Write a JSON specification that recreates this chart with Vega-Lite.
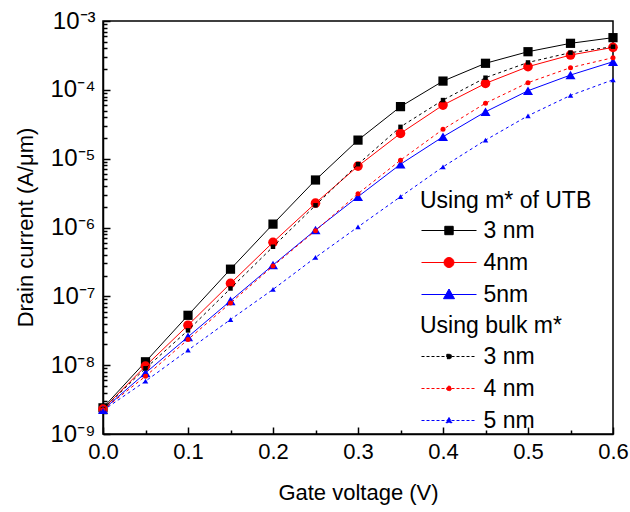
{
  "$schema": "https://vega.github.io/schema/vega-lite/v6.json",
  "autosize": {"type": "none"},
  "width": 510,
  "height": 413,
  "padding": {"left": 103, "top": 21, "right": 17, "bottom": 78},
  "config": {
    "font": "Liberation Sans",
    "view": {"stroke": "#000", "strokeWidth": 1.5},
    "axis": {"domainColor": "#000", "domainWidth": 1.5, "tickColor": "#000", "labelColor": "#000", "titleColor": "#000", "grid": false, "titleFontWeight": "normal", "labelFont": "Liberation Sans", "titleFont": "Liberation Sans"},
    "legend": {"labelFont": "Liberation Sans", "titleFont": "Liberation Sans", "labelColor": "#000", "titleColor": "#000"}
  },
  "data": {"values": [
    {"v": 0.0, "I": 2.4e-9, "m": "UTB", "t": "3 nm"},
    {"v": 0.05, "I": 1.12e-8, "m": "UTB", "t": "3 nm"},
    {"v": 0.1, "I": 5.3e-8, "m": "UTB", "t": "3 nm"},
    {"v": 0.15, "I": 2.48e-7, "m": "UTB", "t": "3 nm"},
    {"v": 0.2, "I": 1.12e-6, "m": "UTB", "t": "3 nm"},
    {"v": 0.25, "I": 4.9e-6, "m": "UTB", "t": "3 nm"},
    {"v": 0.3, "I": 1.86e-5, "m": "UTB", "t": "3 nm"},
    {"v": 0.35, "I": 5.7e-5, "m": "UTB", "t": "3 nm"},
    {"v": 0.4, "I": 1.34e-4, "m": "UTB", "t": "3 nm"},
    {"v": 0.45, "I": 2.43e-4, "m": "UTB", "t": "3 nm"},
    {"v": 0.5, "I": 3.58e-4, "m": "UTB", "t": "3 nm"},
    {"v": 0.55, "I": 4.74e-4, "m": "UTB", "t": "3 nm"},
    {"v": 0.6, "I": 5.73e-4, "m": "UTB", "t": "3 nm"},
    {"v": 0.0, "I": 2.3e-9, "m": "UTB", "t": "4nm"},
    {"v": 0.05, "I": 9.7e-9, "m": "UTB", "t": "4nm"},
    {"v": 0.1, "I": 3.8e-8, "m": "UTB", "t": "4nm"},
    {"v": 0.15, "I": 1.54e-7, "m": "UTB", "t": "4nm"},
    {"v": 0.2, "I": 6.1e-7, "m": "UTB", "t": "4nm"},
    {"v": 0.25, "I": 2.26e-6, "m": "UTB", "t": "4nm"},
    {"v": 0.3, "I": 7.8e-6, "m": "UTB", "t": "4nm"},
    {"v": 0.35, "I": 2.33e-5, "m": "UTB", "t": "4nm"},
    {"v": 0.4, "I": 6.0e-5, "m": "UTB", "t": "4nm"},
    {"v": 0.45, "I": 1.24e-4, "m": "UTB", "t": "4nm"},
    {"v": 0.5, "I": 2.17e-4, "m": "UTB", "t": "4nm"},
    {"v": 0.55, "I": 3.2e-4, "m": "UTB", "t": "4nm"},
    {"v": 0.6, "I": 4.14e-4, "m": "UTB", "t": "4nm"},
    {"v": 0.0, "I": 2.25e-9, "m": "UTB", "t": "5nm"},
    {"v": 0.05, "I": 7.7e-9, "m": "UTB", "t": "5nm"},
    {"v": 0.1, "I": 2.58e-8, "m": "UTB", "t": "5nm"},
    {"v": 0.15, "I": 8.6e-8, "m": "UTB", "t": "5nm"},
    {"v": 0.2, "I": 2.85e-7, "m": "UTB", "t": "5nm"},
    {"v": 0.25, "I": 9.2e-7, "m": "UTB", "t": "5nm"},
    {"v": 0.3, "I": 2.8e-6, "m": "UTB", "t": "5nm"},
    {"v": 0.35, "I": 8.3e-6, "m": "UTB", "t": "5nm"},
    {"v": 0.4, "I": 2.08e-5, "m": "UTB", "t": "5nm"},
    {"v": 0.45, "I": 4.8e-5, "m": "UTB", "t": "5nm"},
    {"v": 0.5, "I": 9.7e-5, "m": "UTB", "t": "5nm"},
    {"v": 0.55, "I": 1.64e-4, "m": "UTB", "t": "5nm"},
    {"v": 0.6, "I": 2.56e-4, "m": "UTB", "t": "5nm"},
    {"v": 0.0, "I": 2.3e-9, "m": "bulk", "t": "3 nm"},
    {"v": 0.05, "I": 9.0e-9, "m": "bulk", "t": "3 nm"},
    {"v": 0.1, "I": 3.2e-8, "m": "bulk", "t": "3 nm"},
    {"v": 0.15, "I": 1.3e-7, "m": "bulk", "t": "3 nm"},
    {"v": 0.2, "I": 5.25e-7, "m": "bulk", "t": "3 nm"},
    {"v": 0.25, "I": 2.1e-6, "m": "bulk", "t": "3 nm"},
    {"v": 0.3, "I": 8.3e-6, "m": "bulk", "t": "3 nm"},
    {"v": 0.35, "I": 2.9e-5, "m": "bulk", "t": "3 nm"},
    {"v": 0.4, "I": 7.1e-5, "m": "bulk", "t": "3 nm"},
    {"v": 0.45, "I": 1.5e-4, "m": "bulk", "t": "3 nm"},
    {"v": 0.5, "I": 2.5e-4, "m": "bulk", "t": "3 nm"},
    {"v": 0.55, "I": 3.47e-4, "m": "bulk", "t": "3 nm"},
    {"v": 0.6, "I": 4.23e-4, "m": "bulk", "t": "3 nm"},
    {"v": 0.0, "I": 2.25e-9, "m": "bulk", "t": "4 nm"},
    {"v": 0.05, "I": 6.9e-9, "m": "bulk", "t": "4 nm"},
    {"v": 0.1, "I": 2.36e-8, "m": "bulk", "t": "4 nm"},
    {"v": 0.15, "I": 8.0e-8, "m": "bulk", "t": "4 nm"},
    {"v": 0.2, "I": 2.75e-7, "m": "bulk", "t": "4 nm"},
    {"v": 0.25, "I": 9.0e-7, "m": "bulk", "t": "4 nm"},
    {"v": 0.3, "I": 3.1e-6, "m": "bulk", "t": "4 nm"},
    {"v": 0.35, "I": 9.5e-6, "m": "bulk", "t": "4 nm"},
    {"v": 0.4, "I": 2.67e-5, "m": "bulk", "t": "4 nm"},
    {"v": 0.45, "I": 6.4e-5, "m": "bulk", "t": "4 nm"},
    {"v": 0.5, "I": 1.27e-4, "m": "bulk", "t": "4 nm"},
    {"v": 0.55, "I": 2.1e-4, "m": "bulk", "t": "4 nm"},
    {"v": 0.6, "I": 2.93e-4, "m": "bulk", "t": "4 nm"},
    {"v": 0.0, "I": 2.2e-9, "m": "bulk", "t": "5 nm"},
    {"v": 0.05, "I": 5.85e-9, "m": "bulk", "t": "5 nm"},
    {"v": 0.1, "I": 1.65e-8, "m": "bulk", "t": "5 nm"},
    {"v": 0.15, "I": 4.6e-8, "m": "bulk", "t": "5 nm"},
    {"v": 0.2, "I": 1.26e-7, "m": "bulk", "t": "5 nm"},
    {"v": 0.25, "I": 3.67e-7, "m": "bulk", "t": "5 nm"},
    {"v": 0.3, "I": 1.02e-6, "m": "bulk", "t": "5 nm"},
    {"v": 0.35, "I": 2.8e-6, "m": "bulk", "t": "5 nm"},
    {"v": 0.4, "I": 7.6e-6, "m": "bulk", "t": "5 nm"},
    {"v": 0.45, "I": 1.86e-5, "m": "bulk", "t": "5 nm"},
    {"v": 0.5, "I": 4.2e-5, "m": "bulk", "t": "5 nm"},
    {"v": 0.55, "I": 8.3e-5, "m": "bulk", "t": "5 nm"},
    {"v": 0.6, "I": 1.4e-4, "m": "bulk", "t": "5 nm"}
  ]},
  "encoding": {
    "x": {
      "field": "v", "type": "quantitative",
      "scale": {"domain": [0, 0.6], "nice": false, "zero": false},
      "axis": {
        "title": "Gate voltage (V)",
        "titleFontSize": 22,
        "titleY": 58,
        "titleBaseline": "middle",
        "values": [0, 0.05, 0.1, 0.15, 0.2, 0.25, 0.3, 0.35, 0.4, 0.45, 0.5, 0.55, 0.6],
        "labelExpr": "abs(datum.value * 10 - round(datum.value * 10)) < 0.001 ? format(datum.value, '.1f') : ''",
        "labelFontSize": 22,
        "labelPadding": 14,
        "labelOverlap": false,
        "labelFlush": false,
        "tickSize": {"condition": {"test": "abs(datum.value * 10 - round(datum.value * 10)) < 0.001", "value": -7}, "value": -4},
        "tickWidth": 1.5
      }
    },
    "y": {
      "field": "I", "type": "quantitative",
      "scale": {"type": "log", "domain": [1e-9, 1e-3], "nice": false},
      "axis": {
        "title": "Drain current (A/μm)",
        "titleFontSize": 22,
        "titleX": -78,
        "titleY": 206,
        "titleAngle": -90,
        "titleAlign": "center",
        "titleBaseline": "middle",
        "values": [1e-9, 2e-9, 3e-9, 4e-9, 5e-9, 6e-9, 7e-9, 8e-9, 9e-9, 1e-8, 2e-8, 3e-8, 4e-8, 5e-8, 6e-8, 7e-8, 8e-8, 9e-8, 1e-7, 2e-7, 3e-7, 4e-7, 5e-7, 6e-7, 7e-7, 8e-7, 9e-7, 1e-6, 2e-6, 3e-6, 4e-6, 5e-6, 6e-6, 7e-6, 8e-6, 9e-6, 1e-5, 2e-5, 3e-5, 4e-5, 5e-5, 6e-5, 7e-5, 8e-5, 9e-5, 1e-4, 2e-4, 3e-4, 4e-4, 5e-4, 6e-4, 7e-4, 8e-4, 9e-4, 1e-3],
        "labelExpr": "abs(log(datum.value) / LN10 - round(log(datum.value) / LN10)) < 0.001 ? '10⁻' + ['⁰','¹','²','³','⁴','⁵','⁶','⁷','⁸','⁹'][-round(log(datum.value) / LN10)] : ''",
        "labelFontSize": 24,
        "labelPadding": 15,
        "labelOverlap": false,
        "labelFlush": false,
        "tickSize": {"condition": {"test": "abs(log(datum.value) / LN10 - round(log(datum.value) / LN10)) < 0.001", "value": -7}, "value": -4},
        "tickWidth": 1.5
      }
    }
  },
  "layer": [
    {
      "transform": [{"filter": "datum.m == 'UTB'"}],
      "encoding": {
        "color": {
          "field": "t", "type": "nominal",
          "scale": {"domain": ["3 nm", "4nm", "5nm"], "range": ["#000000", "#ff0000", "#0000ff"]},
          "legend": {
            "title": "Using m* of UTB",
            "orient": "none",
            "legendX": 317,
            "legendY": 169,
            "padding": 0,
            "titleFontSize": 23,
            "titleFontWeight": "normal",
            "labelFontSize": 23,
            "titlePadding": 6,
            "symbolSize": 400,
            "symbolOffset": 17.5,
            "rowPadding": 8,
            "labelOffset": 23,
            "symbolStrokeWidth": 1,
            "encode": {
              "symbols": {
                "update": {
                  "shape": {"signal": "datum.value == '3 nm' ? 'M-2.75,0H2.75M-0.42,-0.42H0.42V0.42H-0.42Z' : datum.value == '4nm' ? 'M-2.75,0H2.75M0.5,0A0.5,0.5 0 1,1 -0.5,0A0.5,0.5 0 1,1 0.5,0Z' : 'M-2.75,0H2.75M0,-0.55L0.55,0.42L-0.55,0.42Z'"},
                  "strokeWidth": {"value": 1},
                  "opacity": {"value": 1}
                }
              }
            }
          }
        }
      },
      "layer": [
        {"mark": {"type": "line", "strokeWidth": 1}},
        {
          "mark": {"type": "point", "filled": true, "opacity": 1},
          "encoding": {
            "shape": {"field": "t", "type": "nominal", "scale": {"domain": ["5nm", "4nm", "3 nm"], "range": ["triangle-up", "circle", "square"]}, "legend": null},
            "size": {"field": "t", "type": "nominal", "scale": {"domain": ["5nm", "4nm", "3 nm"], "range": [100, 85, 80]}, "legend": null}
          }
        }
      ]
    },
    {
      "transform": [{"filter": "datum.m == 'bulk'"}],
      "encoding": {
        "color": {
          "field": "t", "type": "nominal",
          "scale": {"domain": ["3 nm", "4 nm", "5 nm"], "range": ["#000000", "#ff0000", "#0000ff"]},
          "legend": {
            "title": "Using bulk m*",
            "orient": "none",
            "legendX": 317,
            "legendY": 294,
            "padding": 0,
            "titleFontSize": 23,
            "titleFontWeight": "normal",
            "labelFontSize": 23,
            "titlePadding": 7,
            "symbolSize": 400,
            "symbolOffset": 17.5,
            "rowPadding": 8,
            "labelOffset": 23,
            "symbolStrokeWidth": 1,
            "symbolDash": [3, 2],
            "encode": {
              "symbols": {
                "update": {
                  "shape": {"signal": "datum.value == '3 nm' ? 'M-2.75,0H2.75M-0.22,-0.22H0.22V0.22H-0.22Z' : datum.value == '4 nm' ? 'M-2.75,0H2.75M0.24,0A0.24,0.24 0 1,1 -0.24,0A0.24,0.24 0 1,1 0.24,0Z' : 'M-2.75,0H2.75M0,-0.3L0.3,0.22L-0.3,0.22Z'"},
                  "strokeWidth": {"value": 1},
                  "strokeDash": {"value": [3, 2]},
                  "opacity": {"value": 1}
                }
              }
            }
          }
        }
      },
      "layer": [
        {"mark": {"type": "line", "strokeWidth": 1, "strokeDash": [3, 3]}},
        {
          "mark": {"type": "point", "filled": true, "opacity": 1},
          "encoding": {
            "shape": {"field": "t", "type": "nominal", "scale": {"domain": ["5 nm", "4 nm", "3 nm"], "range": ["triangle-up", "circle", "square"]}, "legend": null},
            "size": {"field": "t", "type": "nominal", "scale": {"domain": ["5 nm", "4 nm", "3 nm"], "range": [30, 20, 20]}, "legend": null}
          }
        }
      ]
    }
  ],
  "resolve": {"scale": {"color": "independent", "shape": "independent", "size": "independent"}}
}
